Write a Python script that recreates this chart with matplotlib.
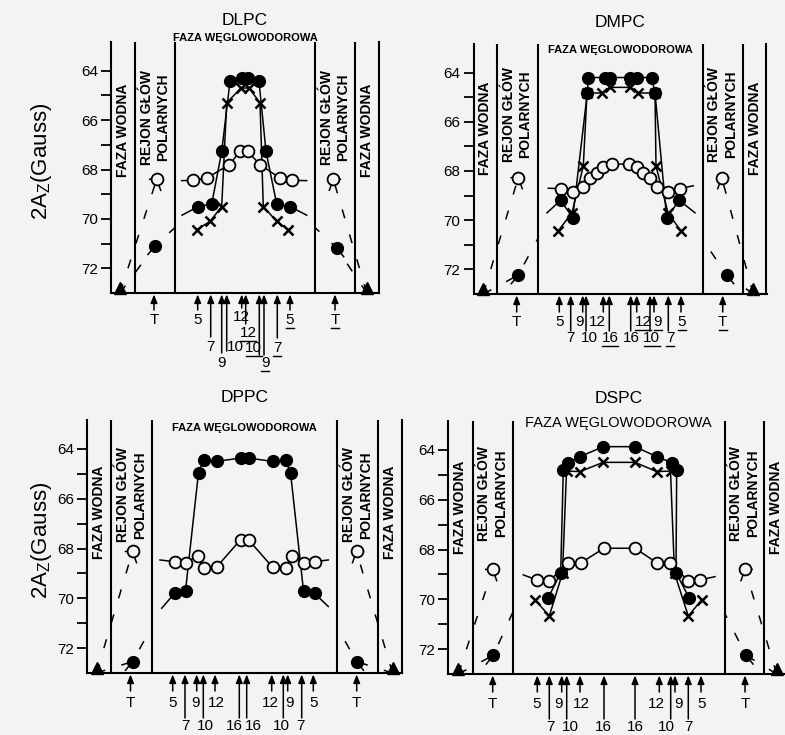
import matplotlib
matplotlib.use("Agg")
import matplotlib.pyplot as plt
from matplotlib.transforms import offset_copy

plt.rcParams['font.family'] = ['Liberation Sans', 'DejaVu Sans']
BG = '#f3f3f1'

# x = polozenie w poprzek dwuwarstwy (od srodka), y = 2Az [Gauss]
# --- DLPC ---
dlpc_filled_x = [-46.7, -33.3, -23.3, -15, -3.3, 3.3, 14, 21, 31.7, 45]
dlpc_filled_y = [69.5, 69.4, 67.27, 64.43, 64.3, 64.3, 64.43, 67.27, 69.4, 69.5]
dlpc_cross_x = [-48.3, -35, -23.3, -18.3, -4, 4, 15, 18.3, 31.7, 43.3]
dlpc_cross_y = [70.44, 70.1, 69.5, 65.3, 64.7, 64.7, 65.3, 69.5, 70.1, 70.44]
dlpc_open_x = [-52.3, -38.3, -15.7, -5, 2.7, 15, 35, 46.7]
dlpc_open_y = [68.44, 68.35, 67.8, 67.27, 67.27, 67.8, 68.35, 68.44]
dlpc_filled_tail = [(-63, 69.85), (61.7, 69.85)]
dlpc_open_tail = [(-63.3, 68.45), (61.7, 68.45)]
dlpc_head_open = [(-88.3, 68.39), (88.3, 68.39)]
dlpc_head_filled = [(-90, 71.09), (91.7, 71.18)]
dlpc_water = [-125, 121.7]
dlpc_edge_y = 70.35
dlpc_arrows = [(-91, 'T', -91, 27, 17, False), (-47.3, '5', -47.3, 27, 17, False),
               (-34.3, '7', -34.3, 54, 44, False), (-23.3, '9', -23.3, 70, 60, False),
               (-18.3, '10', -10, 54, 58, False), (-3.3, '12', -4, 24, 15, False),
               (0.7, '12', 3, 40, 31, True), (14.3, '10', 8.5, 55, 62, True),
               (19, '9', 20, 70, 62, True), (32.3, '7', 32.3, 55, 45, True),
               (45, '5', 45, 27, 17, True), (90, 'T', 90, 27, 17, True)]

# --- DMPC ---
dmpc_filled_x = [-59.3, -47.3, -32.7, -31.7, -15, -10, 10, 16.7, 31.7, 35, 46.7, 59.3]
dmpc_filled_y = [69.19, 69.9, 64.83, 64.2, 64.2, 64.2, 64.2, 64.2, 64.2, 64.83, 69.9, 69.19]
dmpc_cross_x = [-61.7, -48, -36.7, -33, -18.3, -10, 10, 18.3, 35, 36, 48, 60.7]
dmpc_cross_y = [70.43, 69.7, 67.8, 64.83, 64.83, 64.6, 64.6, 64.83, 64.83, 67.8, 69.7, 70.43]
dmpc_open_x = [-59.5, -47.5, -37, -30, -23, -17, -8.5, 8.5, 17, 23, 30, 37, 47.5, 59.5]
dmpc_open_y = [68.72, 68.85, 68.65, 68.3, 68.1, 67.85, 67.72, 67.72, 67.85, 68.1, 68.3, 68.65, 68.85, 68.72]
dmpc_filled_tail = [(-73, 69.7), (75, 69.7)]
dmpc_open_tail = [(-71.7, 68.7), (73.3, 68.6)]
dmpc_head_open = [(-101.7, 68.27), (101.7, 68.27)]
dmpc_head_filled = [(-101.7, 72.23), (106.7, 72.23)]
dmpc_water = [-136.7, 133.3]
dmpc_edge_y = 70.77
dmpc_arrows = [(-103.3, 'T', -103.3, 28, 18, False), (-60.7, '5', -60.7, 28, 18, False),
               (-49.3, '7', -49.3, 44, 37, False), (-37.3, '9', -41, 28, 18, False),
               (-34, '10', -30.5, 44, 37, False), (-16.7, '12', -23, 28, 18, False),
               (-10.7, '16', -10, 44, 37, True), (10.7, '16', 11, 44, 37, False),
               (16.7, '12', 23, 28, 18, True), (30, '10', 31.7, 44, 37, True),
               (34, '9', 38, 28, 18, True), (48.3, '7', 50, 44, 37, True),
               (61, '5', 61.7, 28, 18, True), (102.7, 'T', 102.7, 28, 18, True)]

# --- DPPC ---
dppc_filled_x = [-70, -59, -46, -41, -28, -4, 4, 28, 41, 46, 59, 70]
dppc_filled_y = [69.8, 69.7, 64.95, 64.45, 64.5, 64.37, 64.37, 64.5, 64.45, 64.95, 69.7, 69.8]
dppc_open_x = [-70, -59, -47, -41, -28, -4, 4, 28, 41, 47, 59, 70]
dppc_open_y = [68.53, 68.57, 68.3, 68.79, 68.75, 67.65, 67.65, 68.75, 68.79, 68.3, 68.57, 68.53]
dppc_filled_tail = [(-82.8, 70.4), (83.8, 70.33)]
dppc_open_tail = [(-84.5, 68.46), (83.8, 68.46)]
dppc_head_open = [(-112, 68.12), (112, 68.12)]
dppc_head_filled = [(-112, 72.54), (112, 72.54)]
dppc_water = [-148, 148]
dppc_edge_y = 71.14
dppc_arrows = [(-114, 'T', -114, 30, 18, False), (-71.8, '5', -71.8, 30, 18, False),
               (-59.5, '7', -59.5, 53, 45, False), (-47.8, '9', -49.5, 30, 18, False),
               (-41.2, '10', -39.5, 53, 45, False), (-29.5, '12', -27.8, 30, 18, False),
               (-5.2, '16', -10, 53, 45, False), (2.2, '16', 9, 53, 45, False),
               (27.2, '12', 25.5, 30, 18, False), (38.8, '10', 37.2, 53, 45, False),
               (43.2, '9', 44.8, 30, 18, False), (57.2, '7', 55.5, 53, 45, False),
               (68.8, '5', 68.8, 30, 18, False), (112.2, 'T', 112.2, 30, 18, False)]

# --- DSPC ---
dspc_filled_x = [-70.2, -57.8, -55.2, -50.2, -38.5, -15.2, 16.5, 38.2, 53.2, 58.2, 57.5, 70.5]
dspc_filled_y = [69.93, 68.93, 64.8, 64.51, 64.27, 63.87, 63.87, 64.27, 64.51, 64.8, 68.93, 69.93]
dspc_cross_x = [-83.5, -69.2, -56, -52, -38.5, -15.2, 16.5, 38.2, 52, 56, 69.8, 83.2]
dspc_cross_y = [70.02, 70.67, 68.95, 64.85, 64.87, 64.5, 64.5, 64.87, 64.85, 68.95, 70.67, 70.02]
dspc_open_x = [-81.8, -69.2, -50.2, -37.5, -14.5, 16.5, 38.2, 51.5, 69.8, 81.5]
dspc_open_y = [69.22, 69.26, 68.53, 68.53, 67.95, 67.95, 68.53, 68.53, 69.26, 69.22]
dspc_open_tail = [(-95.2, 69.02), (96.5, 69.09)]
dspc_head_open = [(-125.8, 68.8), (126.5, 68.8)]
dspc_head_filled = [(-125.2, 72.25), (127.5, 72.25)]
dspc_water = [-160.2, 158.2]
dspc_edge_y = 70.55
dspc_arrows = [(-125.8, 'T', -125.8, 30, 18, False), (-81.2, '5', -81.8, 30, 18, False),
               (-69.2, '7', -68.5, 53, 45, False), (-56.8, '9', -60.2, 30, 18, False),
               (-51.8, '10', -48.5, 53, 45, False), (-38.5, '12', -36.8, 30, 18, False),
               (-14.5, '16', -15.2, 53, 45, False), (16.5, '16', 16.5, 53, 45, False),
               (40.8, '12', 38.2, 30, 18, False), (52.2, '10', 48.2, 53, 45, False),
               (56.5, '9', 59.8, 30, 18, False), (69.8, '7', 69.8, 53, 45, False),
               (82.5, '5', 83.2, 30, 18, False), (126.5, 'T', 126.5, 30, 18, False)]

# uklad paneli w pikselach: (srodek x, polowa szerokosci, linia bazowa y, px na Gauss)
panels = [
    dict(name='DLPC', cx=245, half=134, base=293, ppu=24.7, bw=110, bh=70, hc_y=62.66, hc_fs=8, hc_w='bold',
         filled=(dlpc_filled_x, dlpc_filled_y, dlpc_filled_tail), cross=(dlpc_cross_x, dlpc_cross_y, None),
         open=(dlpc_open_x, dlpc_open_y, dlpc_open_tail), hopen=dlpc_head_open, hfilled=dlpc_head_filled,
         water=dlpc_water, edge=dlpc_edge_y, arrows=dlpc_arrows, lab_y=(66.4, 65.9)),
    dict(name='DMPC', cx=620, half=146.5, base=294, ppu=24.6, bw=123, bh=82.5, hc_y=63.07, hc_fs=8, hc_w='bold',
         filled=(dmpc_filled_x, dmpc_filled_y, dmpc_filled_tail), cross=(dmpc_cross_x, dmpc_cross_y, None),
         open=(dmpc_open_x, dmpc_open_y, dmpc_open_tail), hopen=dmpc_head_open, hfilled=dmpc_head_filled,
         water=dmpc_water, edge=dmpc_edge_y, arrows=dmpc_arrows, lab_y=(66.27, 65.7)),
    dict(name='DPPC', cx=244.5, half=157.5, base=673, ppu=24.9, bw=133.5, bh=92.5, hc_y=63.16, hc_fs=8, hc_w='bold',
         filled=(dppc_filled_x, dppc_filled_y, dppc_filled_tail), cross=None,
         open=(dppc_open_x, dppc_open_y, dppc_open_tail), hopen=dppc_head_open, hfilled=dppc_head_filled,
         water=dppc_water, edge=dppc_edge_y, arrows=dppc_arrows, lab_y=(66.53, 65.85)),
    dict(name='DSPC', cx=618.5, half=170.5, base=674, ppu=24.9, bw=145.5, bh=106, hc_y=62.92, hc_fs=10.5, hc_w='normal',
         filled=(dspc_filled_x, dspc_filled_y, None), cross=(dspc_cross_x, dspc_cross_y, None),
         open=(dspc_open_x, dspc_open_y, dspc_open_tail), hopen=dspc_head_open, hfilled=dspc_head_filled,
         water=dspc_water, edge=dspc_edge_y, arrows=dspc_arrows, lab_y=(66.3, 65.75)),
]

W, H = 785, 735
fig = plt.figure(figsize=(W / 100, H / 100), dpi=100, facecolor=BG)
YTOP, YBOT = 62.85, 73.0


def series(ax, data, kind):
    if data is None:
        return
    xs, ys, tail = data
    lx, ly = list(xs), list(ys)
    if tail:
        lx = [tail[0][0]] + lx + [tail[1][0]]
        ly = [tail[0][1]] + ly + [tail[1][1]]
    ax.plot(lx, ly, color='k', lw=1.1, zorder=2)
    if kind == 'open':
        ax.plot(xs, ys, 'o', ms=8.5, mfc=BG, mec='k', mew=1.3, zorder=4)
    elif kind == 'filled':
        ax.plot(xs, ys, 'o', ms=8.5, mfc='k', mec='k', zorder=5)
    else:
        ax.plot(xs, ys, 'x', ms=6.5, mec='k', mew=1.8, zorder=6)


for p in panels:
    h = (YBOT - YTOP) * p['ppu']
    rect = [(p['cx'] - p['half']) / W, (H - p['base']) / H, 2 * p['half'] / W, h / H]
    ax = fig.add_axes(rect)
    ax.set_facecolor('none')
    ax.set_xlim(-p['half'], p['half'])
    ax.set_ylim(YBOT, YTOP)
    for s in ['left', 'right', 'bottom']:
        ax.spines[s].set_linewidth(1.5)
    ax.spines['top'].set_visible(False)
    ax.set_xticks([])
    ax.set_yticks([64, 66, 68, 70, 72])
    ax.set_yticks([65, 67, 69, 71], minor=True)
    ax.tick_params(axis='y', which='both', direction='out', length=7.5, width=1.3,
                   labelsize=11, pad=2, right=False)

    for b in (p['bw'], p['bh']):
        ax.axvline(-b, color='k', lw=1.5)
        ax.axvline(b, color='k', lw=1.5)

    ax.text(0, 61.95, p['name'], ha='center', va='center', fontsize=12.5)
    ax.text(0, p['hc_y'], 'FAZA WĘGLOWODOROWA', ha='center', va='center',
            fontsize=p['hc_fs'], fontweight=p['hc_w'])
    for sgn in (-1, 1):
        ax.text(sgn * (p['half'] + p['bw']) / 2, p['lab_y'][0], 'FAZA WODNA', rotation=90,
                ha='center', va='center', fontsize=10, fontweight='bold')
        ax.text(sgn * (p['bw'] + p['bh']) / 2, p['lab_y'][1], 'REJON GŁÓW\nPOLARNYCH', rotation=90,
                ha='center', va='center', fontsize=10, fontweight='bold', linespacing=1.25,
                multialignment='center')

    series(ax, p['open'], 'open')
    series(ax, p['cross'], 'cross')
    series(ax, p['filled'], 'filled')

    # rejon glow polarnych i faza wodna
    for i, sgn in enumerate((-1, 1)):
        ox, oy = p['hopen'][i]
        fx, fy = p['hfilled'][i]
        wx = p['water'][i]
        ax.plot([wx, ox], [YBOT, oy], color='k', lw=1.1, dashes=(6, 11), zorder=2)
        ax.plot([wx, fx, sgn * p['bh']], [YBOT, fy, p['edge']], color='k', lw=1.1,
                dashes=(6, 11), zorder=2)
        ax.plot([ox - sgn * 4, ox, ox + sgn * 7], [oy + 0.45, oy, oy], color='k', lw=1.1, zorder=2)
        ax.plot([fx + sgn * 7, fx], [fy + 0.35, fy], color='k', lw=1.1, zorder=2)
        ax.plot([ox], [oy], 'o', ms=8.5, mfc=BG, mec='k', mew=1.3, zorder=4)
        ax.plot([fx], [fy], 'o', ms=8.5, color='k', zorder=5)
        ax.plot([wx], [72.8], '^', ms=9, color='k', clip_on=False, zorder=5)

    # strzalki pod osia
    for x, lab, lx, depth, length, under in p['arrows']:
        ax.annotate('', xy=(x, YBOT), xytext=(0, -length), textcoords='offset pixels',
                    arrowprops=dict(arrowstyle='-|>,head_length=0.5,head_width=0.2', color='k',
                                    lw=1.1, shrinkA=0, shrinkB=1),
                    annotation_clip=False)
        tr = offset_copy(ax.transData, fig=fig, x=0, y=-depth, units='dots')
        ax.text(lx, YBOT, lab, transform=tr, ha='center', va='center', fontsize=11)
        if under:
            tr2 = offset_copy(ax.transData, fig=fig, x=0, y=-(depth + 8), units='dots')
            w = 4 * len(lab)
            ax.plot([lx - w, lx + w], [YBOT, YBOT], transform=tr2, color='k', lw=1, clip_on=False)

for yc in (161, 540):
    fig.text(42 / W, 1 - yc / H, '2A$_\\mathregular{Z}$(Gauss)', rotation=90,
             ha='center', va='center', fontsize=16)

fig.savefig('out.png', dpi=100, facecolor=BG)
